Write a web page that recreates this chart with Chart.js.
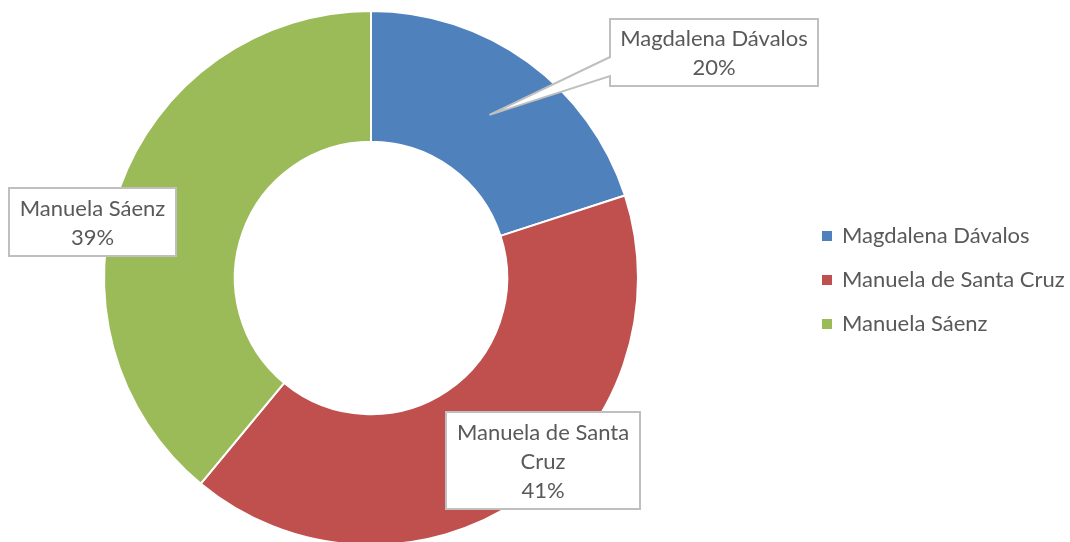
<!DOCTYPE html>
<html>
<head>
<meta charset="utf-8">
<script src="https://cdn.jsdelivr.net/npm/chart.js@4.4.1/dist/chart.umd.min.js"></script>
<style>
  html, body { margin: 0; padding: 0; background: #fff; overflow: hidden; }
  #wrap { position: relative; width: 1070px; height: 558px; }
</style>
</head>
<body>
<div id="wrap"><canvas id="myChart"></canvas></div>
<script>
// dati
const categories = ['Magdalena Dávalos', 'Manuela de Santa Cruz', 'Manuela Sáenz']
const values = [20, 41, 39]
// testo delle etichette (righe spezzate come nell'originale)
const labelLines = [
  ['Magdalena Dávalos', '20%'],
  ['Manuela de Santa', 'Cruz', '41%'],
  ['Manuela Sáenz', '39%']
]
const colors = ['#4F81BD', '#C0504D', '#9BBB59']

const FONT = '22px Lato, "Open Sans", sans-serif'
const TEXT_COLOR = '#595959'

// box delle etichette: [x, y, w, h]
const boxes = [
  [610, 19, 208, 67],
  [446, 412, 194, 97],
  [9, 188, 167, 68]
]

// Etichette con riquadro (e freccia per la prima fetta)
const calloutLabels = {
  id: 'calloutLabels',
  afterDatasetsDraw(chart) {
    const { ctx } = chart
    const arcs = chart.getDatasetMeta(0).data
    ctx.save()
    ctx.font = FONT
    ctx.textAlign = 'center'
    ctx.textBaseline = 'middle'
    boxes.forEach((b, i) => {
      const [x, y, w, h] = b
      ctx.beginPath()
      ctx.moveTo(x, y)
      ctx.lineTo(x + w, y)
      ctx.lineTo(x + w, y + h)
      ctx.lineTo(x, y + h)
      if (i === 0) {
        // freccia verso il centro della fetta
        const tip = arcs[0].tooltipPosition()
        ctx.lineTo(x, y + 57)
        ctx.lineTo(tip.x, tip.y)
        ctx.lineTo(x, y + 38)
      }
      ctx.closePath()
      ctx.fillStyle = '#ffffff'
      ctx.fill()
      ctx.lineWidth = 2
      ctx.strokeStyle = '#BFBFBF'
      ctx.stroke()

      const lines = labelLines[i]
      const lh = 29
      const cy = y + h / 2 + 1
      ctx.fillStyle = TEXT_COLOR
      lines.forEach((t, k) => {
        ctx.fillText(t, x + w / 2, cy + (k - (lines.length - 1) / 2) * lh)
      })
    })
    ctx.restore()
  }
}

// Legenda a destra
const sideLegend = {
  id: 'sideLegend',
  afterDraw(chart) {
    const { ctx } = chart
    ctx.save()
    ctx.font = FONT
    ctx.textBaseline = 'middle'
    ctx.textAlign = 'left'
    chart.data.labels.forEach((lab, i) => {
      const yy = 236 + i * 44
      ctx.fillStyle = chart.data.datasets[0].backgroundColor[i]
      ctx.fillRect(822, yy - 5, 10, 10)
      ctx.fillStyle = TEXT_COLOR
      ctx.fillText(lab, 842, yy)
    })
    ctx.restore()
  }
}

const ctx = document.getElementById('myChart')

new Chart(ctx, {
  type: 'doughnut',
  plugins: [calloutLabels, sideLegend],
  data: {
    labels: categories,
    datasets: [
      {
        data: values,
        backgroundColor: colors,
        borderColor: '#ffffff',
        borderWidth: 2
      }
    ]
  },
  options: {
    responsive: true,
    maintainAspectRatio: false,
    animation: false,
    cutout: '51%',
    layout: {
      padding: { left: 103, right: 431, top: 10, bottom: 12 }
    },
    plugins: {
      legend: { display: false },
      tooltip: { enabled: false }
    }
  }
})
</script>
</body>
</html>
